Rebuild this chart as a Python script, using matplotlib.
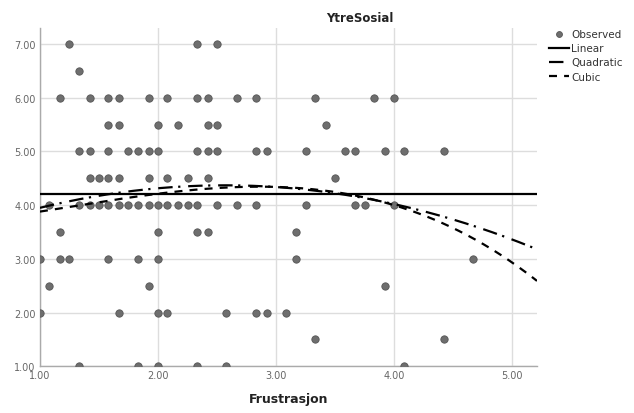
import numpy as np
import matplotlib.pyplot as plt

# observed points, grouped by YtreSosial level
levels = [7.0, 6.5, 6.0, 5.5, 5.0, 4.5, 4.0, 3.5, 3.0, 2.5, 2.0, 1.5, 1.0]
frus_by_level = [
    [1.25, 2.33, 2.50],
    [1.33],
    [1.17, 1.42, 1.58, 1.67, 1.92, 2.08, 2.33, 2.42, 2.67, 2.83, 3.33, 3.83, 4.00],
    [1.58, 1.67, 2.00, 2.17, 2.42, 2.50, 3.42],
    [1.33, 1.42, 1.58, 1.75, 1.83, 1.92, 2.00, 2.33, 2.42, 2.50, 2.83, 2.92,
     3.25, 3.58, 3.67, 3.92, 4.08, 4.42],
    [1.42, 1.50, 1.58, 1.67, 1.92, 2.08, 2.25, 2.42, 3.50],
    [1.08, 1.33, 1.42, 1.50, 1.58, 1.67, 1.75, 1.83, 1.92, 2.00, 2.08, 2.17,
     2.25, 2.33, 2.50, 2.67, 2.83, 3.25, 3.67, 3.75, 4.00],
    [1.17, 2.00, 2.33, 2.42, 3.17],
    [1.00, 1.17, 1.25, 1.58, 1.83, 2.00, 3.17, 4.67],
    [1.08, 1.92, 3.92],
    [1.00, 1.67, 2.00, 2.08, 2.58, 2.83, 2.92, 3.08],
    [3.33, 4.42],
    [1.33, 1.83, 2.00, 2.33, 2.58, 4.08],
]

# fitted curve coefficients (constant, x, x^2, x^3)
coef_linear = [4.21, 0.0]
coef_quadratic = [3.245, 0.876, -0.1706]
coef_cubic = [3.603, 0.162, 0.1586, -0.04358]

xticks = [1.0, 2.0, 3.0, 4.0, 5.0]
yticks = [1.0, 2.0, 3.0, 4.0, 5.0, 6.0, 7.0]

x_obs = np.concatenate([np.array(v) for v in frus_by_level])
y_obs = np.concatenate([np.full(len(v), lv) for lv, v in zip(levels, frus_by_level)])

xs = np.linspace(1.0, 5.21, 300)
P = np.polynomial.Polynomial

fig = plt.figure(figsize=(6.34, 4.14), dpi=100)
ax = fig.add_axes([0.063, 0.113, 0.784, 0.817])

ax.scatter(x_obs, y_obs, s=28, color='#6e6e6e', edgecolor='#555555',
           linewidth=0.6, zorder=3, label='Observed')
ax.plot(xs, P(coef_linear)(xs), color='black', lw=1.6, zorder=4, label='Linear')
ax.plot(xs, P(coef_quadratic)(xs), color='black', lw=1.6,
        dashes=(6.5, 2.5, 1, 3.5), zorder=4, label='Quadratic')
ax.plot(xs, P(coef_cubic)(xs), color='black', lw=1.6,
        dashes=(3.6, 3.2), zorder=4, label='Cubic')

ax.set_xlim(1.0, 5.21)
ax.set_ylim(1.0, 7.3)
ax.set_xticks(xticks)
ax.set_yticks(yticks)
ax.set_xticklabels(['%.2f' % t for t in xticks])
ax.set_yticklabels(['%.2f' % t for t in yticks])
ax.tick_params(length=0, labelsize=7, colors='#666666', pad=3)
ax.grid(True, color='#dddddd', lw=1.0)
ax.set_axisbelow(True)
for s in ['top', 'right']:
    ax.spines[s].set_visible(False)
for s in ['left', 'bottom']:
    ax.spines[s].set_color('#aaaaaa')
    ax.spines[s].set_linewidth(1.0)

fig.text(0.568, 0.955, 'YtreSosial', ha='center', va='center',
         fontsize=8.5, fontweight='bold', color='#222222')
fig.text(0.456, 0.034, 'Frustrasjon', ha='center', va='center',
         fontsize=9, fontweight='bold', color='#222222')

fig.legend(loc='upper left', bbox_to_anchor=(0.857, 0.94), frameon=False,
           fontsize=7.5, handlelength=2.0, handletextpad=0.2, labelspacing=0.4,
           borderpad=0, markerscale=0.8, labelcolor='#333333')

plt.savefig('out.png', dpi=100)
